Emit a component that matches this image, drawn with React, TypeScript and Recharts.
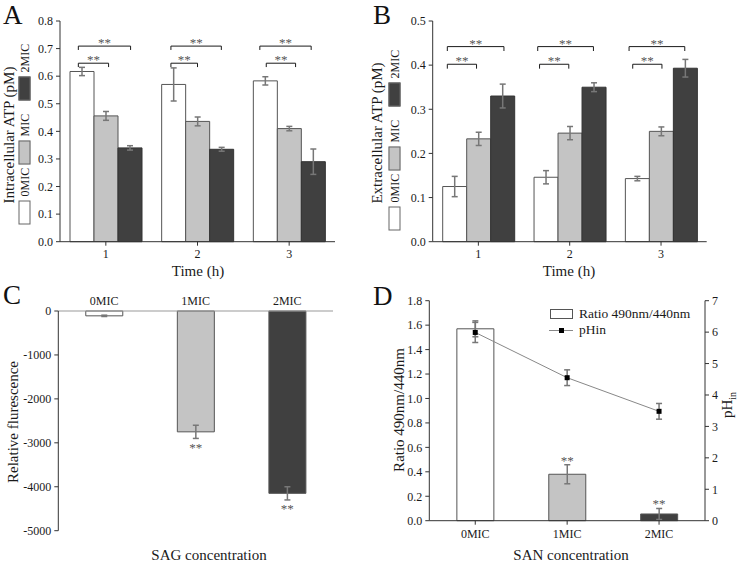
import type { ReactNode } from "react";
import { Bar, BarChart, Cell, ComposedChart, ErrorBar, Line, ReferenceDot, ReferenceLine, XAxis, YAxis } from "recharts";

const FONT = "'Liberation Serif', 'Times New Roman', Times, serif";
const INK = "#1a1a1a";
const STAR = "#555";
const ERR = "#777";
const FILLS = ["#ffffff", "#c4c4c4", "#404040"];

// A: intracellular ATP (pM) per hour
const TIMES = [1, 2, 3];
const A_MIC0 = [0.617, 0.57, 0.583];
const A_MIC0_ERR = [0.015, 0.06, 0.015];
const A_MIC1 = [0.456, 0.436, 0.41];
const A_MIC1_ERR = [0.016, 0.016, 0.008];
const A_MIC2 = [0.34, 0.335, 0.29];
const A_MIC2_ERR = [0.008, 0.007, 0.046];
const A_TICKS = [0, 0.1, 0.2, 0.3, 0.4, 0.5, 0.6, 0.7, 0.8];

// B: extracellular ATP (pM) per hour
const B_MIC0 = [0.125, 0.146, 0.143];
const B_MIC0_ERR = [0.023, 0.015, 0.005];
const B_MIC1 = [0.233, 0.246, 0.25];
const B_MIC1_ERR = [0.015, 0.015, 0.01];
const B_MIC2 = [0.33, 0.35, 0.393];
const B_MIC2_ERR = [0.027, 0.01, 0.02];
const B_TICKS = [0, 0.1, 0.2, 0.3, 0.4, 0.5];

const LEGEND_LABELS = ["0MIC", "MIC", "2MIC"];

// significance brackets (x in hours, y in pM)
const A_BRACKETS = [
  { x1: 0.7, x2: 1.27, y: 0.709 },
  { x1: 0.7, x2: 1.03, y: 0.647 },
  { x1: 1.71, x2: 2.26, y: 0.709 },
  { x1: 1.71, x2: 2.0, y: 0.647 },
  { x1: 2.68, x2: 3.24, y: 0.709 },
  { x1: 2.75, x2: 3.07, y: 0.647 },
];
const B_BRACKETS = [
  { x1: 0.66, x2: 1.28, y: 0.442 },
  { x1: 0.66, x2: 0.98, y: 0.402 },
  { x1: 1.65, x2: 2.26, y: 0.442 },
  { x1: 1.67, x2: 1.99, y: 0.402 },
  { x1: 2.65, x2: 3.26, y: 0.442 },
  { x1: 2.69, x2: 3.01, y: 0.402 },
];

// C: relative fluorescence
const CONC = ["0MIC", "1MIC", "2MIC"];
const C_FLUOR = [-110, -2750, -4150];
const C_FLUOR_ERR = [15, 150, 150];
const C_SIG = ["", "**", "**"];
const C_TICKS = [-5000, -4000, -3000, -2000, -1000, 0];

// D: ratio 490/440 and pHin
const D_RATIO = [1.57, 0.38, 0.055];
const D_RATIO_ERR = [0.065, 0.078, 0.045];
const D_PH = [5.99, 4.55, 3.48];
const D_PH_ERR = [0.32, 0.25, 0.25];
const D_SIG = ["", "**", "**"];
const D_RATIO_TICKS = [0, 0.2, 0.4, 0.6, 0.8, 1.0, 1.2, 1.4, 1.6, 1.8];
const D_PH_TICKS = [0, 1, 2, 3, 4, 5, 6, 7];

const tickStyle = { fill: INK, fontSize: 12, fontFamily: FONT };
const axisLine = { stroke: "#333" };
const fmt1 = (v: number) => v.toFixed(1);

function VText({ x, y, size = 15, children }: { x: number; y: number; size?: number; children: ReactNode }) {
  return (
    <div style={{ position: "absolute", left: x, top: y, transform: "translate(-50%, -50%) rotate(-90deg)", whiteSpace: "nowrap", fontSize: size, lineHeight: 1, color: INK, fontWeight: 400 }}>
      {children}
    </div>
  );
}

function HText({ x, y, size = 15, children }: { x: number; y: number; size?: number; children: ReactNode }) {
  return (
    <div style={{ position: "absolute", left: x, top: y, transform: "translate(-50%, -50%)", whiteSpace: "nowrap", fontSize: size, lineHeight: 1, color: INK, fontWeight: 400 }}>
      {children}
    </div>
  );
}

function Letter({ x, y, children }: { x: number; y: number; children: ReactNode }) {
  return <div style={{ position: "absolute", left: x, top: y, fontSize: 27, lineHeight: 1, color: "#111" }}>{children}</div>;
}

function SideLegend({ cx, cy }: { cx: number; cy: number }) {
  const len = 183;
  const widths = [60, 64, 59];
  return (
    <div style={{ position: "absolute", left: cx - len / 2, top: cy - 7, width: len, height: 14, transform: "rotate(-90deg)", display: "flex", alignItems: "center" }}>
      {LEGEND_LABELS.map((name, i) => (
        <div key={name} style={{ width: widths[i], display: "flex", alignItems: "center" }}>
          <div style={{ width: 24, height: 12, background: FILLS[i], border: "1px solid #666", boxSizing: "border-box" }} />
          <span style={{ marginLeft: 4, fontSize: 12, lineHeight: 1, color: INK }}>{name}</span>
        </div>
      ))}
    </div>
  );
}

type Bracket = { x1: number; x2: number; y: number };

function bracketLines(list: Bracket[], drop: number) {
  return list.flatMap((b, i) => [
    <ReferenceLine
      key={`h${i}`}
      segment={[{ x: b.x1, y: b.y }, { x: b.x2, y: b.y }]}
      stroke={INK}
      label={{ value: "**", position: "top", offset: -1, fill: STAR, fontSize: 13, fontFamily: FONT }}
    />,
    <ReferenceLine key={`l${i}`} segment={[{ x: b.x1, y: b.y }, { x: b.x1, y: b.y - drop }]} stroke={INK} />,
    <ReferenceLine key={`r${i}`} segment={[{ x: b.x2, y: b.y }, { x: b.x2, y: b.y - drop }]} stroke={INK} />,
  ]);
}

function TimePanel(props: {
  left: number;
  width: number;
  yWidth: number;
  right: number;
  s0: number[]; e0: number[];
  s1: number[]; e1: number[];
  s2: number[]; e2: number[];
  ticks: number[];
  brackets: Bracket[];
  drop: number;
}) {
  const rows = TIMES.map((t, i) => ({
    t,
    m0: props.s0[i], m0e: props.e0[i],
    m1: props.s1[i], m1e: props.e1[i],
    m2: props.s2[i], m2e: props.e2[i],
  }));
  const max = props.ticks[props.ticks.length - 1];
  return (
    <div style={{ position: "absolute", left: props.left, top: 0 }}>
      <ComposedChart width={props.width} height={280} data={rows} margin={{ top: 21, right: props.right, bottom: 0, left: 0 }} barGap={0}>
        <XAxis dataKey="t" type="number" domain={[0.5, 3.5]} ticks={TIMES} height={38.3} tickSize={4} tickMargin={4} axisLine={axisLine} tickLine={axisLine} tick={tickStyle} />
        <YAxis type="number" domain={[0, max]} ticks={props.ticks} interval={0} width={props.yWidth} tickSize={4} tickMargin={3} tickFormatter={fmt1} axisLine={axisLine} tickLine={axisLine} tick={tickStyle} />
        <Bar dataKey="m0" fill={FILLS[0]} stroke="#555" barSize={24} isAnimationActive={false}>
          <ErrorBar dataKey="m0e" width={3} stroke={ERR} />
        </Bar>
        <Bar dataKey="m1" fill={FILLS[1]} stroke="#555" barSize={24} isAnimationActive={false}>
          <ErrorBar dataKey="m1e" width={3} stroke={ERR} />
        </Bar>
        <Bar dataKey="m2" fill={FILLS[2]} stroke="#333" barSize={24} isAnimationActive={false}>
          <ErrorBar dataKey="m2e" width={3} stroke={ERR} />
        </Bar>
        {bracketLines(props.brackets, props.drop)}
      </ComposedChart>
    </div>
  );
}

function FluorPanel() {
  const rows = CONC.map((c, i) => ({ c, v: C_FLUOR[i], e: C_FLUOR_ERR[i] }));
  return (
    <div style={{ position: "absolute", left: 0, top: 280 }}>
      <BarChart width={368} height={282} data={rows} margin={{ top: 0, right: 35, bottom: 31.3, left: 0 }} barCategoryGap="30%">
        <XAxis dataKey="c" orientation="top" height={31} tickSize={4} tickMargin={2} axisLine={{ stroke: "#999" }} tickLine={false} tick={tickStyle} />
        <YAxis type="number" domain={[-5000, 0]} ticks={C_TICKS} interval={0} width={58.3} tickSize={4} tickMargin={3} axisLine={axisLine} tickLine={axisLine} tick={tickStyle} />
        <Bar dataKey="v" stroke="#555" isAnimationActive={false}>
          {rows.map((r, i) => (
            <Cell key={r.c} fill={FILLS[i]} />
          ))}
          <ErrorBar dataKey="e" width={3} stroke={ERR} />
        </Bar>
        {rows.map((r, i) =>
          C_SIG[i] ? (
            <ReferenceDot key={r.c} x={r.c} y={r.v - r.e} r={0} fill="none" stroke="none"
              label={{ value: C_SIG[i], position: "bottom", offset: 4, fill: STAR, fontSize: 13, fontFamily: FONT }} />
          ) : null
        )}
      </BarChart>
    </div>
  );
}

const Square = (p: { cx?: number; cy?: number; index?: number }) => (
  <rect key={p.index} x={(p.cx ?? 0) - 2.5} y={(p.cy ?? 0) - 2.5} width={5} height={5} fill="#000" />
);

function PhPanel() {
  const rows = CONC.map((c, i) => ({ c, r: D_RATIO[i], re: D_RATIO_ERR[i], p: D_PH[i], pe: D_PH_ERR[i] }));
  return (
    <div style={{ position: "absolute", left: 370, top: 280 }}>
      <ComposedChart width={367} height={282} data={rows} margin={{ top: 20.7, right: 0, bottom: 0, left: 0 }} barCategoryGap="30%">
        <XAxis dataKey="c" height={41.3} tickSize={4} tickMargin={5} axisLine={axisLine} tickLine={axisLine} tick={tickStyle} />
        <YAxis yAxisId="left" type="number" domain={[0, 1.8]} ticks={D_RATIO_TICKS} interval={0} width={59.3} tickSize={4} tickMargin={3} tickFormatter={fmt1} axisLine={axisLine} tickLine={axisLine} tick={tickStyle} />
        <YAxis yAxisId="right" orientation="right" type="number" domain={[0, 7]} ticks={D_PH_TICKS} interval={0} width={32} tickSize={4} tickMargin={3} axisLine={axisLine} tickLine={axisLine} tick={tickStyle} />
        <Bar yAxisId="left" dataKey="r" stroke="#555" isAnimationActive={false}>
          {rows.map((r, i) => (
            <Cell key={r.c} fill={FILLS[i]} />
          ))}
          <ErrorBar dataKey="re" width={3} stroke={ERR} />
        </Bar>
        <Line yAxisId="right" dataKey="p" stroke="#888" strokeWidth={1} dot={Square} activeDot={false} isAnimationActive={false}>
          <ErrorBar dataKey="pe" width={3} stroke={ERR} />
        </Line>
        {rows.map((r, i) =>
          D_SIG[i] ? (
            <ReferenceDot key={r.c} yAxisId="left" x={r.c} y={r.r + r.re} r={0} fill="none" stroke="none"
              label={{ value: D_SIG[i], position: "top", offset: 0, fill: STAR, fontSize: 13, fontFamily: FONT }} />
          ) : null
        )}
      </ComposedChart>
    </div>
  );
}

export default function App() {
  return (
    <div style={{ position: "absolute", left: 0, top: 0, width: 737, height: 562, background: "#fff", fontFamily: FONT, overflow: "hidden" }}>
      <TimePanel left={0} width={368} yWidth={60} right={33}
        s0={A_MIC0} e0={A_MIC0_ERR} s1={A_MIC1} e1={A_MIC1_ERR} s2={A_MIC2} e2={A_MIC2_ERR}
        ticks={A_TICKS} brackets={A_BRACKETS} drop={0.014} />
      <TimePanel left={370} width={367} yWidth={62.7} right={30.3}
        s0={B_MIC0} e0={B_MIC0_ERR} s1={B_MIC1} e1={B_MIC1_ERR} s2={B_MIC2} e2={B_MIC2_ERR}
        ticks={B_TICKS} brackets={B_BRACKETS} drop={0.01} />
      <FluorPanel />
      <PhPanel />

      <Letter x={3} y={1.5}>A</Letter>
      <Letter x={373} y={1.5}>B</Letter>
      <Letter x={3} y={282}>C</Letter>
      <Letter x={373} y={283}>D</Letter>

      <VText x={9} y={135}>Intracellular ATP (pM)</VText>
      <SideLegend cx={24.5} cy={132.5} />
      <HText x={198} y={271}>Time (h)</HText>

      <VText x={377} y={133}>Extracellular ATP (pM)</VText>
      <SideLegend cx={394.5} cy={139} />
      <HText x={569} y={271}>Time (h)</HText>

      <VText x={13} y={422}>Relative flurescence</VText>
      <HText x={209} y={555}>SAG concentration</HText>

      <VText x={399} y={410}>Ratio 490nm/440nm</VText>
      <VText x={729} y={405}>
        pH<sub style={{ fontSize: 10 }}>in</sub>
      </VText>
      <HText x={571} y={555}>SAN concentration</HText>

      <div style={{ position: "absolute", left: 550, top: 309, width: 23, height: 10, border: "1px solid #555", boxSizing: "border-box", background: "#fff" }} />
      <div style={{ position: "absolute", left: 579, top: 314, transform: "translateY(-50%)", fontSize: 13.5, lineHeight: 1, color: INK, whiteSpace: "nowrap" }}>Ratio 490nm/440nm</div>
      <div style={{ position: "absolute", left: 549, top: 330, width: 24, height: 1, background: "#888" }} />
      <div style={{ position: "absolute", left: 558.5, top: 328, width: 5, height: 5, background: "#000" }} />
      <div style={{ position: "absolute", left: 579, top: 330, transform: "translateY(-50%)", fontSize: 13.5, lineHeight: 1, color: INK, whiteSpace: "nowrap" }}>pHin</div>
    </div>
  );
}
